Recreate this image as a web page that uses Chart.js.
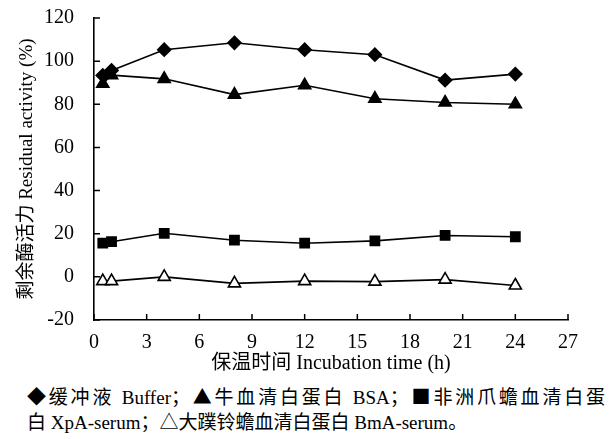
<!DOCTYPE html>
<html>
<head>
<meta charset="utf-8">
<script src="https://cdn.jsdelivr.net/npm/chart.js@4.4.0/dist/chart.umd.min.js"></script>
<style>
  body { margin: 0; background: #fff; }
  #wrap { width: 612px; height: 439px; position: relative; overflow: hidden; }
  #chartBox { position: absolute; left: 0; top: -6px; width: 612px; height: 386px; }
  .cap {
    position: absolute; left: 27px;
    font-family: "Liberation Serif", "Noto Sans CJK SC", serif;
    font-size: 19px; line-height: 25px; color: #000; white-space: nowrap;
  }
  .cap .m { font-family: "Noto Sans CJK SC", sans-serif; }
  #cap1 { top: 383px; width: 578px; text-align: justify; text-align-last: justify; white-space: normal; }
  #cap2 { top: 408px; }
</style>
</head>
<body>
<div id="wrap">
  <div id="chartBox"><canvas id="c"></canvas></div>
  <div class="cap" id="cap1"><span class="m">◆</span>缓冲液 Buffer；<span class="m">▲</span>牛血清白蛋白 BSA；<span class="m">■</span>非洲爪蟾血清白蛋</div>
  <div class="cap" id="cap2">白 XpA-serum；<span class="m">△</span>大蹼铃蟾血清白蛋白 BmA-serum。</div>
</div>
<script>
  const hours = [0.5, 1, 4, 8, 12, 16, 20, 24];
  const bufferVals = [93.4, 95.7, 105.3, 108.5, 105.3, 103, 91.2, 94];
  const bsaVals = [89.5, 93.5, 91.8, 84.5, 88.8, 82.6, 80.8, 80];
  const xpaVals = [15.6, 16.3, 20.2, 17, 15.6, 16.7, 19.2, 18.6];
  const bmaVals = [-2, -2, 0, -3, -2, -2.2, -1.3, -4];

  const serif = "'Liberation Serif', 'Noto Sans CJK SC', serif";

  function pts(vals) {
    return hours.map((h, i) => ({ x: h, y: vals[i] }));
  }

  function series(label, vals, style, radius, fill) {
    return {
      label: label,
      data: pts(vals),
      borderColor: "#000",
      borderWidth: 1.6,
      pointStyle: style,
      pointRadius: radius,
      pointBackgroundColor: fill,
      pointBorderColor: "#000",
      pointBorderWidth: 1.6,
      tension: 0
    };
  }

  // ticks drawn inside the plot, as in the figure
  const innerTicks = {
    id: "innerTicks",
    afterDraw(chart) {
      const ctx = chart.ctx;
      const xs = chart.scales.x, ys = chart.scales.y;
      const area = chart.chartArea;
      ctx.save();
      ctx.strokeStyle = "#000";
      ctx.lineWidth = 1.5;
      ctx.beginPath();
      xs.ticks.forEach(t => {
        const px = xs.getPixelForValue(t.value);
        ctx.moveTo(px, area.bottom);
        ctx.lineTo(px, area.bottom - 6);
      });
      ys.ticks.forEach(t => {
        const py = ys.getPixelForValue(t.value);
        ctx.moveTo(area.left, py);
        ctx.lineTo(area.left + 6, py);
      });
      ctx.stroke();
      ctx.restore();
    }
  };

  new Chart(document.getElementById("c"), {
    type: "line",
    data: {
      datasets: [
        series("缓冲液 Buffer", bufferVals, "rectRot", 6.5, "#000"),
        series("牛血清白蛋白 BSA", bsaVals, "triangle", 7, "#000"),
        series("非洲爪蟾血清白蛋白 XpA-serum", xpaVals, "rect", 6.5, "#000"),
        series("大蹼铃蟾血清白蛋白 BmA-serum", bmaVals, "triangle", 7, "#fff")
      ]
    },
    plugins: [innerTicks],
    options: {
      responsive: true,
      maintainAspectRatio: false,
      animation: false,
      layout: { padding: { top: 9, right: 44, left: 0, bottom: 0 } },
      plugins: {
        legend: { display: false },
        tooltip: { enabled: false }
      },
      scales: {
        x: {
          type: "linear",
          min: 0,
          max: 27,
          ticks: { stepSize: 3, color: "#000", font: { family: serif, size: 20 }, padding: 3 },
          grid: { display: false },
          border: { display: true, color: "#000", width: 1.6 },
          title: {
            display: true,
            text: "保温时间 Incubation time (h)",
            color: "#000",
            font: { family: serif, size: 20 },
            padding: { top: 2 }
          },
          afterFit(scale) { scale.height = 60; }
        },
        y: {
          min: -20,
          max: 120,
          ticks: { stepSize: 20, color: "#000", font: { family: serif, size: 20 }, padding: 12 },
          grid: { display: false },
          border: { display: true, color: "#000", width: 1.6 },
          title: {
            display: true,
            text: "剩余酶活力 Residual activity (%)",
            color: "#000",
            font: { family: serif, size: 19 },
            padding: { top: 16, bottom: 0 }
          },
          afterFit(scale) { scale.width = 94; }
        }
      }
    }
  });
</script>
</body>
</html>
